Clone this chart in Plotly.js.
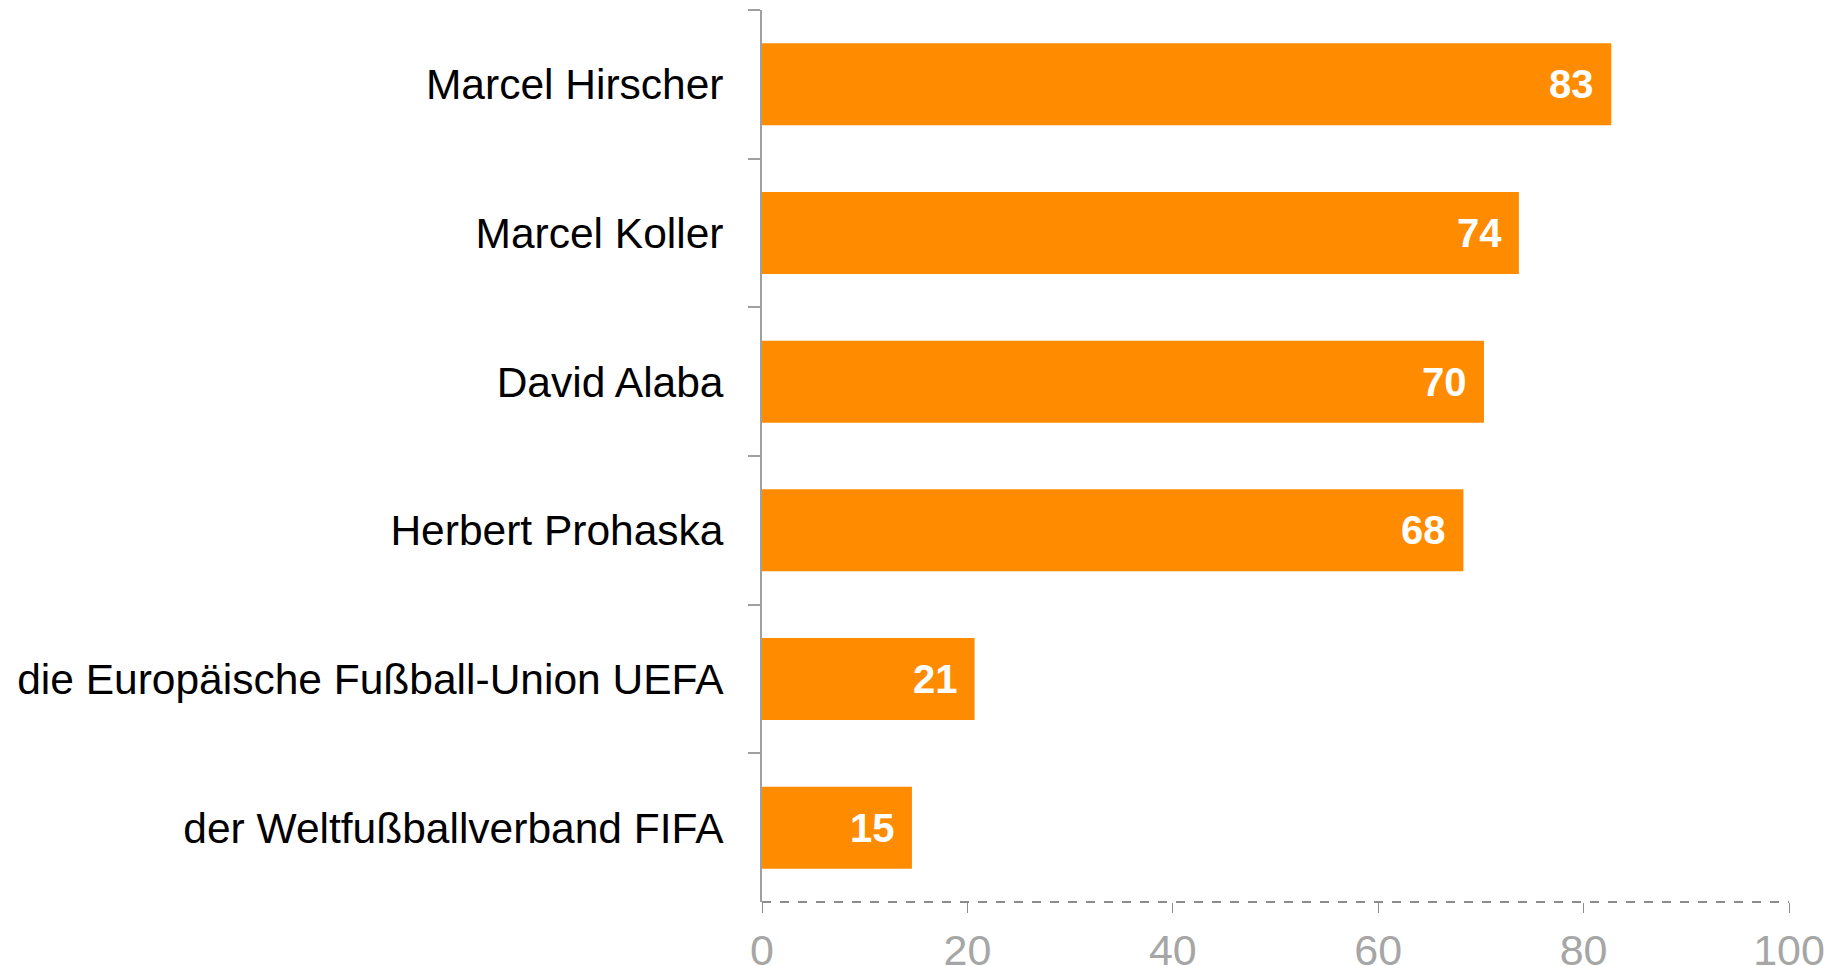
<!DOCTYPE html>
<html>
<head>
<meta charset="utf-8">
<script src="https://cdn.plot.ly/plotly-3.0.1.min.js"></script>
<style>html,body{margin:0;padding:0;background:#fff;}#chart{width:1827px;height:966px;}</style>
</head>
<body>
<div id="chart"></div>
<script>
const categories = ["Marcel Hirscher", "Marcel Koller", "David Alaba", "Herbert Prohaska", "die Europäische Fußball-Union UEFA", "der Weltfußballverband FIFA"];
const values = [82.7, 73.7, 70.3, 68.3, 20.7, 14.6];
const valueLabels = ["83", "74", "70", "68", "21", "15"];
const xTicks = [0, 20, 40, 60, 80, 100];

const FONT = "Arial, 'Liberation Sans', sans-serif";

const trace = {
  type: "bar",
  orientation: "h",
  y: categories,
  x: values,
  marker: {color: "#FF8C00", line: {width: 0}},
  hoverinfo: "none"
};

const annotations = categories.map((c, i) => ({
  x: values[i], y: c, xref: "x", yref: "y",
  text: valueLabels[i], showarrow: false,
  xanchor: "right", yanchor: "middle", xshift: -15,
  font: {family: FONT, size: 40, color: "#ffffff", weight: "bold"}
}));

const layout = {
  width: 1827, height: 966,
  margin: {l: 762, r: 38, t: 9.5, b: 64, pad: 0},
  paper_bgcolor: "#ffffff", plot_bgcolor: "#ffffff",
  showlegend: false,
  bargap: 0.448,
  xaxis: {
    range: [0, 100], tickvals: xTicks, ticktext: xTicks.map(String),
    showgrid: false, zeroline: false, showline: false,
    ticks: "outside", ticklen: 10, tickwidth: 1, tickcolor: "#8c8c8c",
    tickfont: {family: FONT, size: 43, color: "#a6a6a6"},
    fixedrange: true
  },
  yaxis: {
    autorange: "reversed", type: "category",
    showgrid: false, zeroline: false,
    showline: true, linecolor: "#a0a0a0", linewidth: 2,
    ticks: "outside", tickson: "boundaries", ticklen: 12, tickwidth: 2, tickcolor: "#a0a0a0",
    ticklabelstandoff: 28,
    tickfont: {family: FONT, size: 42.5, color: "#000000"},
    fixedrange: true
  },
  shapes: [{
    type: "line", xref: "x", yref: "paper", x0: 0, x1: 100, y0: 0, y1: 0,
    line: {color: "#8c8c8c", width: 2, dash: "dash"}
  }],
  annotations: annotations
};

Plotly.newPlot("chart", [trace], layout, {displayModeBar: false, staticPlot: true});
</script>
</body>
</html>
